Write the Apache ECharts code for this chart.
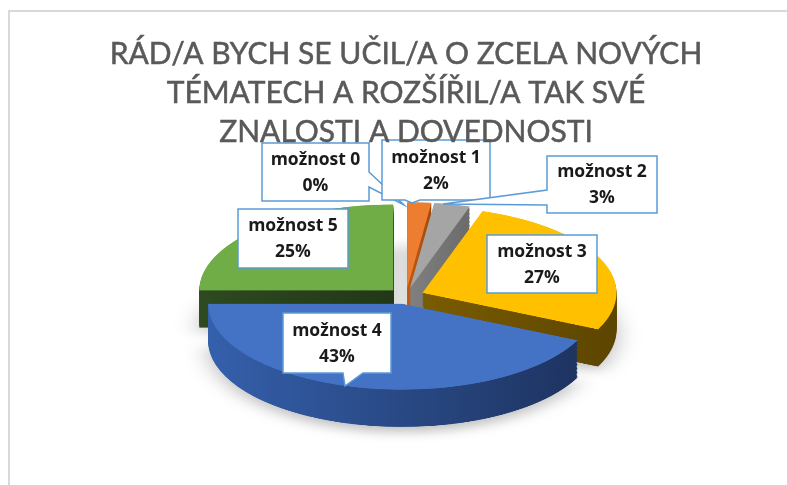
<!DOCTYPE html>
<html>
<head>
<meta charset="utf-8">
<script src="https://cdn.jsdelivr.net/npm/echarts@6/dist/echarts.min.js"></script>
<style>
  html, body { margin: 0; padding: 0; background: #fff; }
  #stage { position: relative; width: 787px; height: 485px; overflow: hidden; background: #fff; }
  #frame { position: absolute; left: 8px; top: 10px; width: 820px; height: 520px; border: 2px solid #d9d9d9; box-sizing: border-box; }
  /* pie is drawn round and squashed to look tilted */
  #pie { position: absolute; left: 0; top: 0; width: 787px; height: 1095px; transform: scaleY(0.443); transform-origin: 0 0; }
  #labels { position: absolute; left: 0; top: 0; width: 787px; height: 485px; }
</style>
</head>
<body>
<div id="stage">
  <div id="frame"></div>
  <div id="pie"></div>
  <div id="labels"></div>
</div>
<script>
// ==============================
// data
// ==============================
const categories = ['možnost 0', 'možnost 1', 'možnost 2', 'možnost 3', 'možnost 4', 'možnost 5'];
const values = [0, 2, 3, 27, 43, 25];
const titleLines = ['RÁD/A BYCH SE UČIL/A O ZCELA NOVÝCH', 'TÉMATECH A ROZŠÍŘIL/A TAK SVÉ', 'ZNALOSTI A DOVEDNOSTI'];

// ==============================
// styles / layout
// ==============================
const topColors = ['#4472C4', '#ED7D31', '#A5A5A5', '#FFC000', '#4472C4', '#70AD47'];
const sideColors = [
  ['#2F5597', '#1F3864'],
  ['#C55A11', '#A04A0E'],
  ['#808080', '#6B6B6B'],
  ['#7A5C00', '#5C4500'],
  ['#3560AC', '#1E3461'],
  ['#2E4A20', '#223818']
];

const SQUASH = 0.443;
const CX = 406;
const CY = 296 / SQUASH;
const R = 194;
const DEPTH = 84;
const STEP = 3;
const EXPLODE = 18;

// callout boxes: x, y, w, h and optional tail (edge, from, to, tip relative to box)
const calloutLayout = [
  { x: 262, y: 143, w: 107, h: 58, tail: { edge: 'right', from: 29, to: 44, tip: [142, 62] } },
  { x: 382, y: 140, w: 108, h: 60, tail: { edge: 'bottom', from: 23, to: 38, tip: [30, 63] } },
  { x: 547, y: 156, w: 110, h: 57, tail: { edge: 'left', from: 34, to: 49, tip: [-104, 48] } },
  { x: 487, y: 235, w: 110, h: 58 },
  { x: 283, y: 313, w: 108, h: 60, tail: { edge: 'bottom', from: 60, to: 80, tip: [62, 73] } },
  { x: 238, y: 209, w: 110, h: 59 }
];

// ==============================
// pie (stacked layers for the 3D wall)
// ==============================
const pieChart = echarts.init(document.getElementById('pie'));

function layerStyle(i, kind) {
  let style;
  if (kind === 'top') {
    style = { color: topColors[i] };
  } else {
    style = {
      color: {
        type: 'linear', x: 0, y: 0, x2: 1, y2: 0,
        colorStops: [
          { offset: 0, color: sideColors[i][0] },
          { offset: 1, color: sideColors[i][1] }
        ]
      }
    };
  }
  style.borderWidth = 0;
  if (kind === 'bottom') {
    style.shadowBlur = 25;
    style.shadowColor = 'rgba(0,0,0,0.25)';
    style.shadowOffsetY = 12;
  }
  return style;
}

function pieLayer(offset, kind) {
  return {
    type: 'pie',
    silent: true,
    animation: false,
    center: [CX, CY + offset],
    radius: [0, R],
    startAngle: 90,
    clockwise: true,
    selectedMode: 'multiple',
    selectedOffset: EXPLODE,
    emphasis: { disabled: true },
    label: { show: false },
    labelLine: { show: false },
    data: categories.map((name, i) => {
      const style = layerStyle(i, kind);
      return { name, value: values[i], selected: true, itemStyle: style, select: { itemStyle: style } };
    })
  };
}

const pieSeries = [];
for (let d = DEPTH; d > 0; d -= STEP) {
  pieSeries.push(pieLayer(d, d === DEPTH ? 'bottom' : 'side'));
}
pieSeries.push(pieLayer(0, 'top'));

pieChart.setOption({ series: pieSeries });

// ==============================
// title + callouts
// ==============================
const total = values.reduce((a, b) => a + b, 0);

function bubblePoints(b) {
  const { w, h, tail } = b;
  const pts = [[0, 0]];
  if (tail && tail.edge === 'top') pts.push([tail.from, 0], tail.tip, [tail.to, 0]);
  pts.push([w, 0]);
  if (tail && tail.edge === 'right') pts.push([w, tail.from], tail.tip, [w, tail.to]);
  pts.push([w, h]);
  if (tail && tail.edge === 'bottom') pts.push([tail.to, h], tail.tip, [tail.from, h]);
  pts.push([0, h]);
  if (tail && tail.edge === 'left') pts.push([0, tail.to], tail.tip, [0, tail.from]);
  return pts;
}

const callouts = categories.map((name, i) => {
  const b = calloutLayout[i];
  const pct = Math.round(values[i] / total * 100) + '%';
  return {
    type: 'group',
    x: b.x,
    y: b.y,
    z: 100 + i,
    children: [
      {
        type: 'polygon',
        shape: { points: bubblePoints(b) },
        style: { fill: '#fff', stroke: '#5B9BD5', lineWidth: 1.5 }
      },
      {
        type: 'text',
        x: b.w / 2,
        y: b.h / 2 + 1,
        style: {
          text: name + '\n' + pct,
          fill: '#1a1a1a',
          font: 'bold 17.5px "Open Sans"',
          lineHeight: 26,
          align: 'center',
          verticalAlign: 'middle'
        }
      }
    ]
  };
});

const labelChart = echarts.init(document.getElementById('labels'));
labelChart.setOption({
  title: {
    text: titleLines.join('\n'),
    left: 401,
    textAlign: 'center',
    top: 30,
    textStyle: {
      fontFamily: 'Lato',
      fontSize: 30,
      fontWeight: 'normal',
      color: '#595959',
      lineHeight: 39,
      textBorderColor: '#595959',
      textBorderWidth: 0.5
    }
  },
  graphic: callouts
});
</script>
</body>
</html>
